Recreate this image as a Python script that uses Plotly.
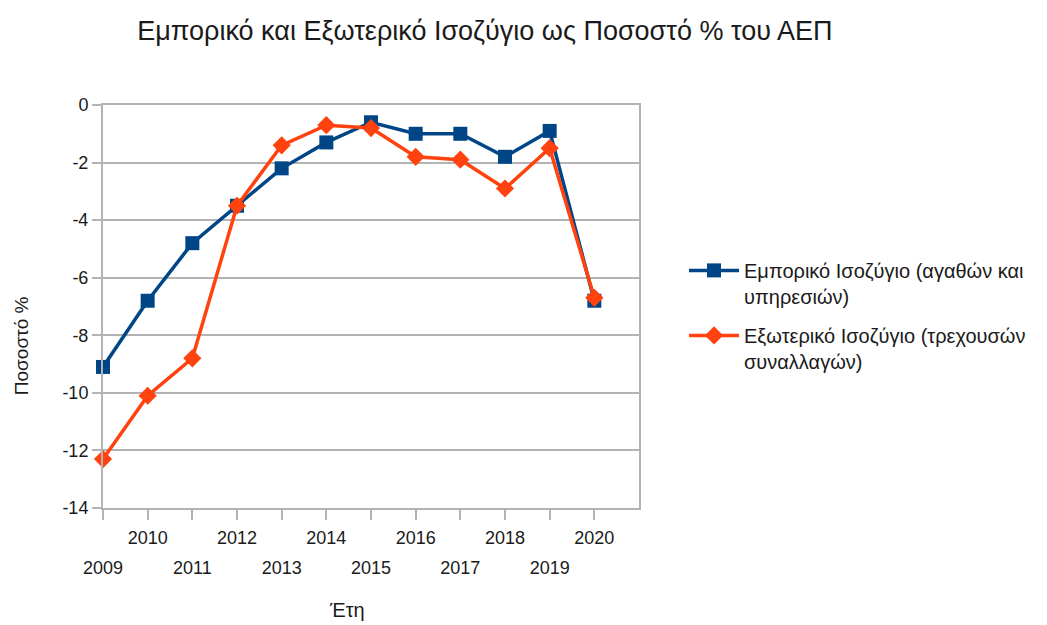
import plotly.graph_objects as go

years = [2009, 2010, 2011, 2012, 2013, 2014, 2015, 2016, 2017, 2018, 2019, 2020]
trade_balance = [-9.1, -6.8, -4.8, -3.5, -2.2, -1.3, -0.6, -1.0, -1.0, -1.8, -0.9, -6.8]
current_account = [-12.3, -10.1, -8.8, -3.5, -1.4, -0.7, -0.8, -1.8, -1.9, -2.9, -1.5, -6.7]
name_trade = "Εμπορικό Ισοζύγιο (αγαθών και<br>υπηρεσιών)"
name_current = "Εξωτερικό Ισοζύγιο (τρεχουσών<br>συναλλαγών)"
title_text = "Εμπορικό και Εξωτερικό Ισοζύγιο ως Ποσοστό % του ΑΕΠ"
ytitle = "Ποσοστό %"
xtitle = "Έτη"
y_tick_vals = [0, -2, -4, -6, -8, -10, -12, -14]
y_tick_text = ["0", "-2", "-4", "-6", "-8", "-10", "-12", "-14"]
even_labels = [str(y) if y % 2 == 0 else "" for y in years]
odd_labels = [str(y) if y % 2 == 1 else "" for y in years]

FONT = "Liberation Sans, Arial, sans-serif"
TXT = "#1a1a1a"
BLUE = "#004586"
ORANGE = "#ff420e"
GRID = "#b3b3b3"

fig = go.Figure()
fig.add_trace(go.Scatter(x=years, y=trade_balance, name=name_trade, mode="lines+markers",
                         legendgroup="a", cliponaxis=False,
                         line=dict(color=BLUE, width=3.5),
                         marker=dict(symbol="square", size=14, color=BLUE)))
fig.add_trace(go.Scatter(x=years, y=current_account, name=name_current, mode="lines+markers",
                         legendgroup="b", cliponaxis=False,
                         line=dict(color=ORANGE, width=3.5),
                         marker=dict(symbol="diamond", size=14, color=ORANGE)))
# invisible trace to activate secondary x axis for staggered labels
fig.add_trace(go.Scatter(x=years, y=trade_balance, xaxis="x2", mode="markers",
                         marker=dict(opacity=0), showlegend=False, hoverinfo="skip"))

fig.update_layout(
    width=1039, height=617,
    paper_bgcolor="white", plot_bgcolor="white",
    margin=dict(l=95, r=408, t=97, b=117, autoexpand=False),
    font=dict(family=FONT, color=TXT),
    title=dict(text=title_text, x=0.459, xanchor="center", y=0.964, yanchor="middle",
               font=dict(size=27, family=FONT, color=TXT)),
    xaxis=dict(range=[2009, 2021], tickmode="array", tickvals=years, ticktext=even_labels,
               showgrid=False, zeroline=False,
               showline=True, linecolor=GRID, linewidth=2, mirror=True,
               ticks="outside", ticklen=10, tickcolor=GRID, tickwidth=2,
               ticklabelstandoff=2,
               tickfont=dict(size=18, family=FONT, color=TXT)),
    xaxis2=dict(range=[2009, 2021], overlaying="x", side="bottom", anchor="y",
                tickmode="array", tickvals=years, ticktext=odd_labels,
                showgrid=False, zeroline=False, showline=False, ticks="",
                ticklabelstandoff=47,
                tickfont=dict(size=18, family=FONT, color=TXT)),
    yaxis=dict(range=[-14, 0], tickmode="array", tickvals=y_tick_vals, ticktext=y_tick_text,
               showgrid=True, gridcolor=GRID, gridwidth=2,
               zeroline=False, showline=True, linecolor=GRID, linewidth=2, mirror=True,
               ticks="outside", ticklen=9, tickcolor=GRID, tickwidth=2,
               tickfont=dict(size=18, family=FONT, color=TXT)),
    legend=dict(x=1.084, y=0.638, xanchor="left", yanchor="top", valign="top",
                itemwidth=50, traceorder="grouped", tracegroupgap=10,
                font=dict(size=20, family=FONT, color=TXT),
                bgcolor="rgba(0,0,0,0)"),
    showlegend=True,
    annotations=[
        dict(text=ytitle, x=-0.153, y=0.404, xref="paper", yref="paper", textangle=-90,
             xanchor="center", yanchor="middle",
             showarrow=False, font=dict(size=19, family=FONT, color=TXT)),
        dict(text=xtitle, x=0.455, y=-0.254, xref="paper", yref="paper",
             xanchor="center", yanchor="middle",
             showarrow=False, font=dict(size=20, family=FONT, color=TXT)),
    ],
)

fig.write_html("out.html")
